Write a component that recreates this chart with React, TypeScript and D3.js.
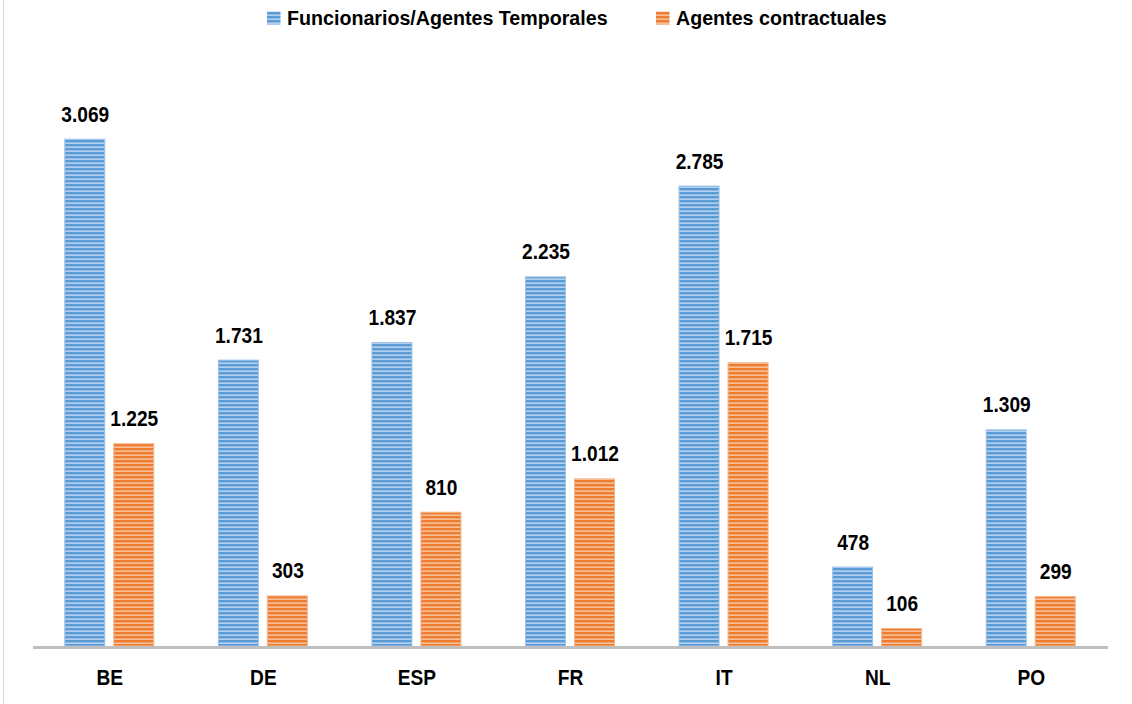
import { useEffect, useRef } from "react";
import * as d3 from "d3";

// Staff by country, two series
const countries = ["BE", "DE", "ESP", "FR", "IT", "NL", "PO"];
const funcionarios = [3069, 1731, 1837, 2235, 2785, 478, 1309];
const contractuales = [1225, 303, 810, 1012, 1715, 106, 299];
const seriesNames = ["Funcionarios/Agentes Temporales", "Agentes contractuales"];

const W = 1132;
const H = 704;
const FONT = "'Liberation Sans', Arial, sans-serif";
const NARROW = 0.87; // no narrow face installed, squeeze the bold one

const fmt = (n: number) => d3.format(",")(n).replace(/,/g, ".");

type Sel = d3.Selection<SVGGElement, unknown, null, undefined>;
// condensed bold text at (x, baseline y)
const label = (parent: Sel, x: number, y: number, txt: string, size: number, sx: number, anchor = "middle") =>
  parent
    .append("text")
    .attr("transform", `translate(${x},${y}) scale(${sx},1)`)
    .attr("text-anchor", anchor)
    .attr("font-family", FONT)
    .attr("font-weight", "bold")
    .attr("font-size", size)
    .attr("fill", "#000")
    .text(txt);

export default function App() {
  const ref = useRef<SVGSVGElement>(null);

  useEffect(() => {
    const svg = d3.select(ref.current!);
    svg.selectAll("*").remove();

    const x = d3
      .scaleBand<string>()
      .domain(countries)
      .range([33, W - 24]);
    const y = d3.scaleLinear().domain([0, 3500]).range([646, 68]);

    // striped fills
    const defs = svg.append("defs");
    const mkPattern = (id: string, base: string, light: string) => {
      const p = defs
        .append("pattern")
        .attr("id", id)
        .attr("patternUnits", "userSpaceOnUse")
        .attr("width", 8)
        .attr("height", 4);
      p.append("rect").attr("width", 8).attr("height", 4).attr("fill", light);
      p.append("rect").attr("width", 8).attr("height", 2.4).attr("fill", base);
    };
    mkPattern("pBlue", "#5b9bd5", "#b4d0ee");
    mkPattern("pOrange", "#ed7d31", "#f7bf98");

    const root = svg.append("g") as unknown as Sel;

    // chart frame left edge
    root.append("line")
      .attr("x1", 3.5).attr("x2", 3.5).attr("y1", 0).attr("y2", H)
      .attr("stroke", "#d9d9d9").attr("stroke-width", 1);

    // legend
    const legendItems = [
      { x: 267, fill: "url(#pBlue)", name: seriesNames[0] },
      { x: 656, fill: "url(#pOrange)", name: seriesNames[1] },
    ];
    legendItems.forEach((it) => {
      root.append("rect").attr("x", it.x).attr("y", 11.5).attr("width", 13.5).attr("height", 13).attr("fill", it.fill);
      label(root, it.x + 20, 25, it.name, 21, 0.936, "start");
    });

    const barW = 41;
    const gap = 8;
    const series = [
      { vals: funcionarios, fill: "url(#pBlue)", edge: "#9cc2e8", off: -(barW + gap / 2) },
      { vals: contractuales, fill: "url(#pOrange)", edge: "#f5b486", off: gap / 2 },
    ];

    series.forEach((s) => {
      countries.forEach((c, i) => {
        const cx = (x(c) ?? 0) + x.bandwidth() / 2;
        const v = s.vals[i];
        const bx = cx + s.off;
        root.append("rect")
          .attr("x", bx)
          .attr("y", y(v))
          .attr("width", barW - 1)
          .attr("height", y(0) - y(v))
          .attr("fill", s.fill)
          .attr("stroke", s.edge)
          .attr("stroke-width", 1);
        label(root, bx + barW / 2, y(v) - 17.5, fmt(v), 22, NARROW);
      });
    });

    // axis line
    root.append("line")
      .attr("x1", x.range()[0]).attr("x2", x.range()[1])
      .attr("y1", 647.5).attr("y2", 647.5)
      .attr("stroke", "#bfbfbf").attr("stroke-width", 3);

    // category labels
    countries.forEach((c) => {
      label(root, (x(c) ?? 0) + x.bandwidth() / 2, 685, c, 22, NARROW);
    });
  }, []);

  return (
    <svg
      ref={ref}
      width={W}
      height={H}
      viewBox={`0 0 ${W} ${H}`}
      style={{ position: "absolute", left: 0, top: 0, background: "#fff" }}
    />
  );
}
